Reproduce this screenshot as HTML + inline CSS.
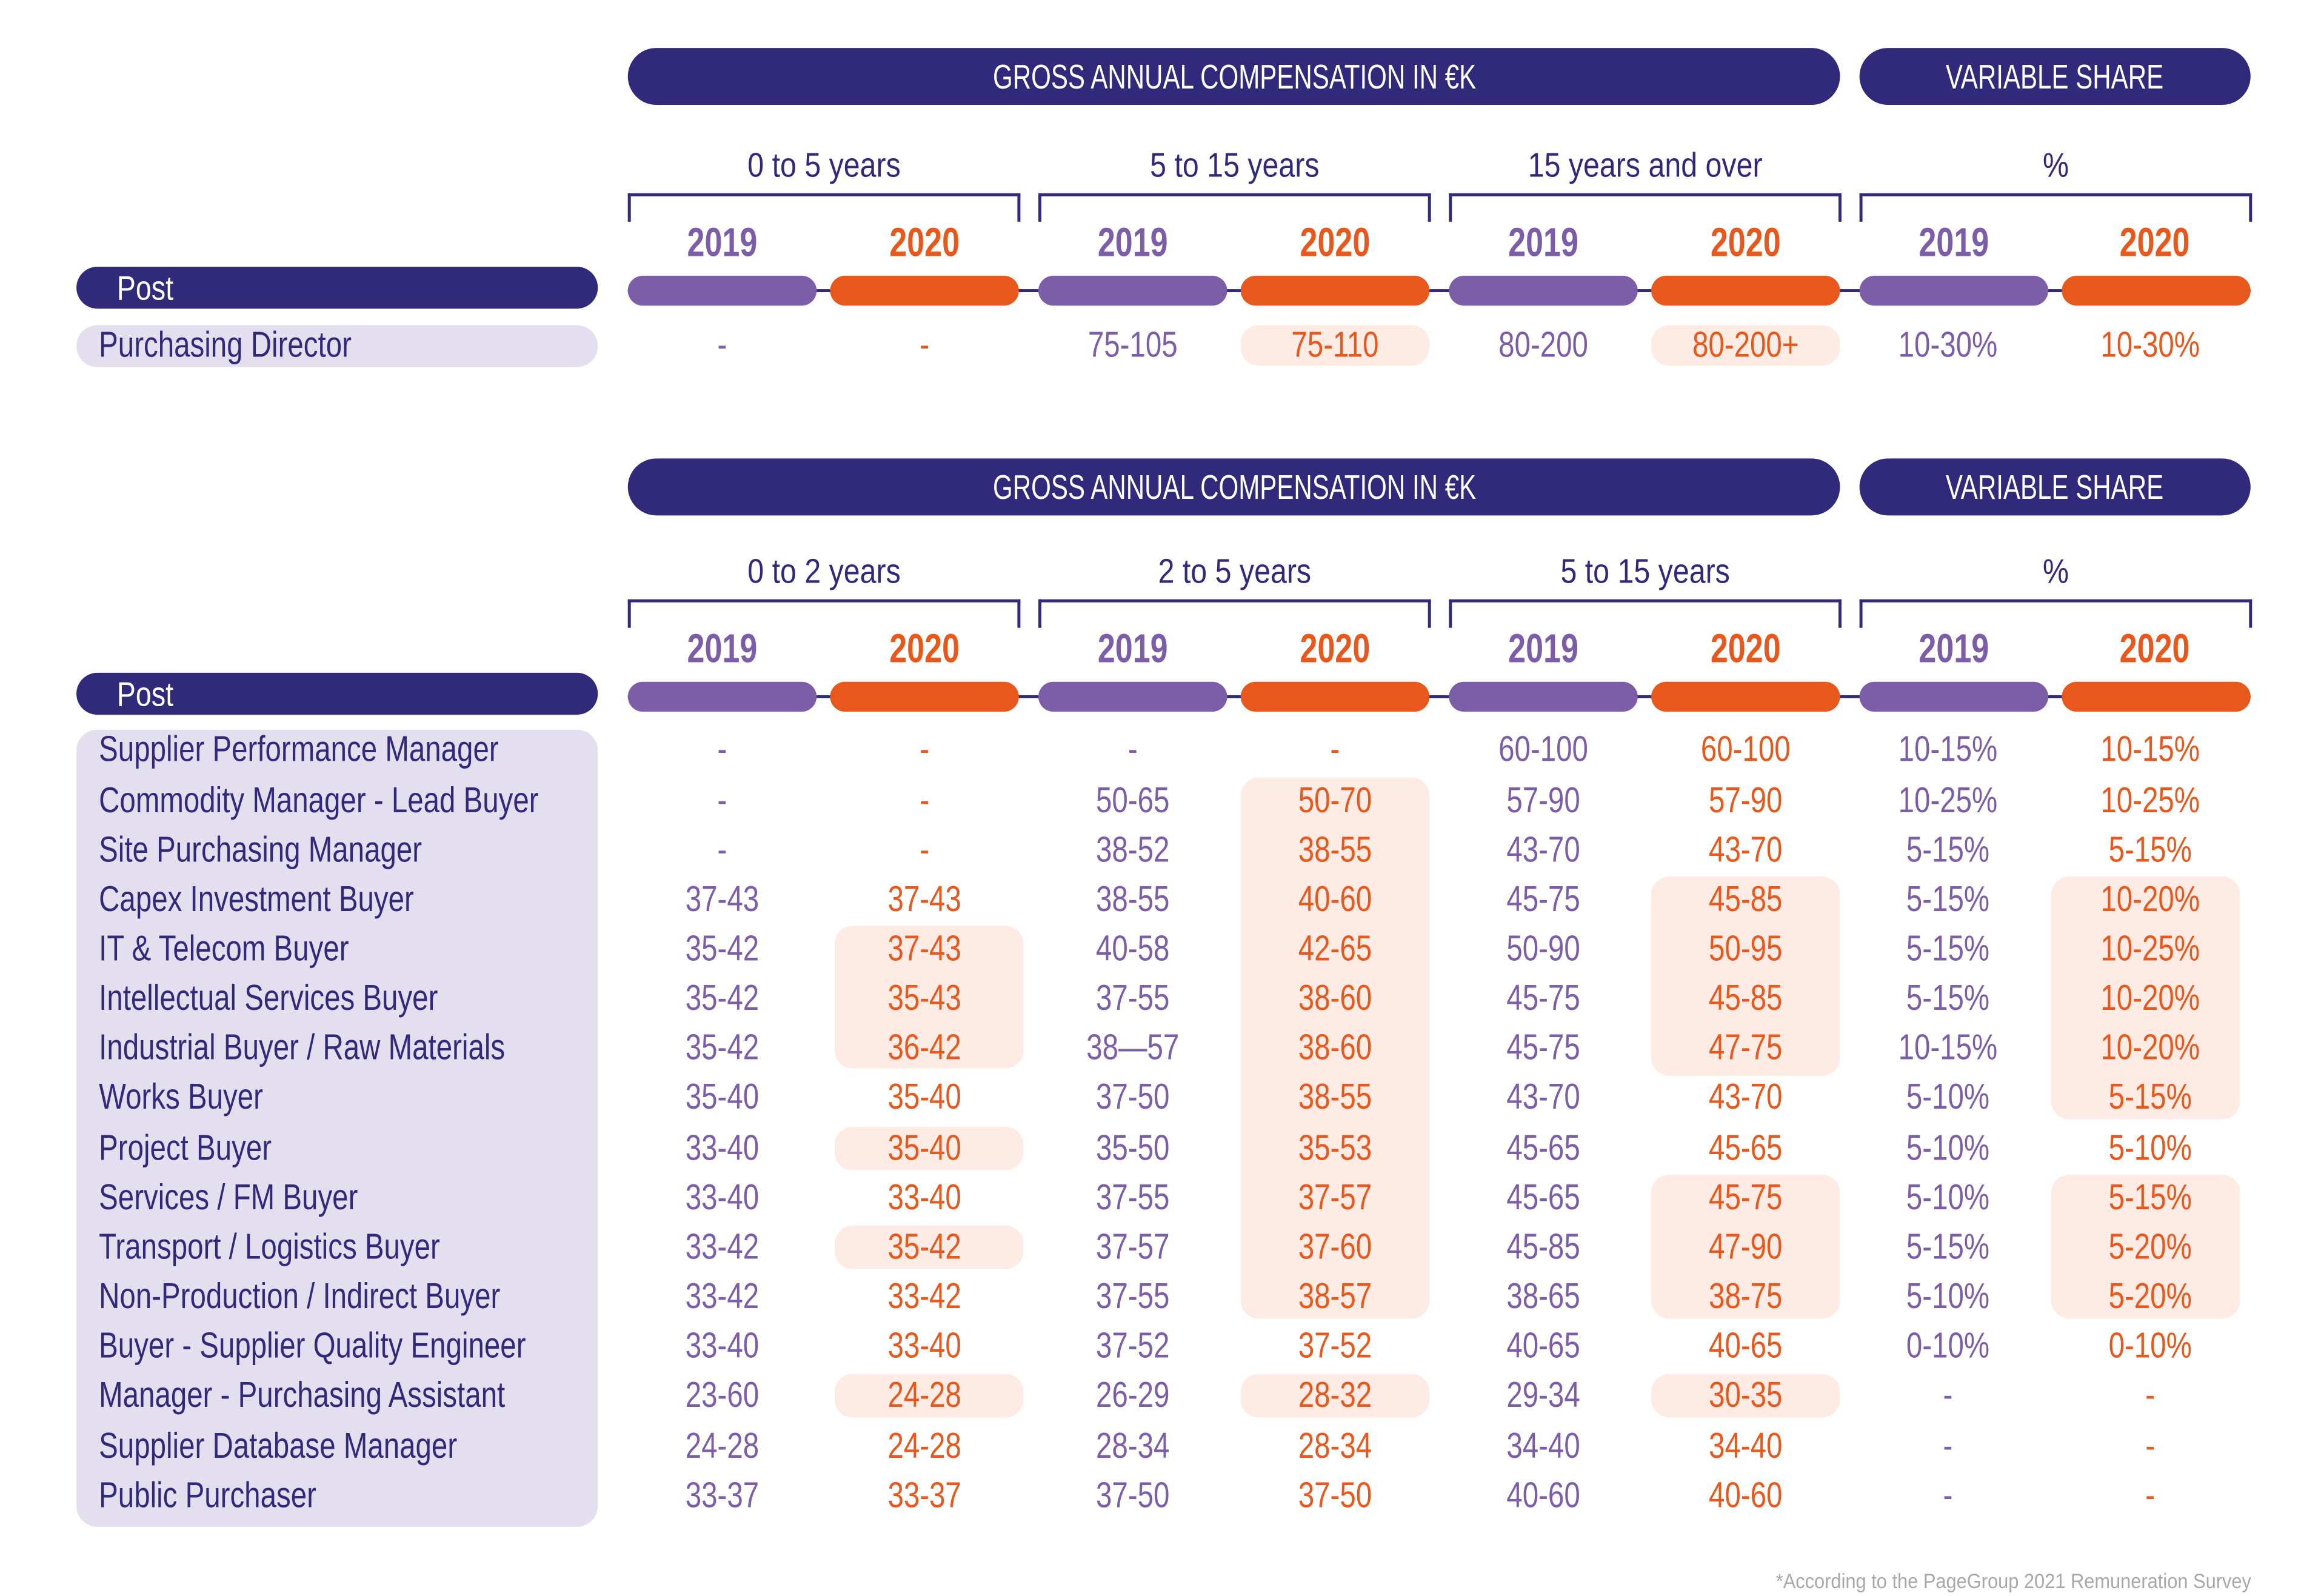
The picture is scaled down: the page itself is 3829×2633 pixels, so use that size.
<!DOCTYPE html>
<html><head><meta charset="utf-8"><style>
html,body{margin:0;padding:0;background:#fff;}
body{width:3829px;height:2621px;overflow:hidden;position:relative;}
#w{position:absolute;left:0;top:0;width:1549px;height:1060px;transform:scale(2.4719);transform-origin:0 0;font-family:"Liberation Sans Narrow","Liberation Sans",sans-serif;}
#w div{position:absolute;box-sizing:border-box;}
.pill{background:#312a7b;border-radius:19px;color:#fff;text-align:center;font-size:23px;line-height:38px;height:38px;}
.pill span{display:inline-block;transform:scaleX(0.74);white-space:nowrap;}
.grp{color:#312a7b;font-size:23px;text-align:center;width:262px;height:30px;line-height:30px;transform:scaleX(0.85);}
.br{border:2px solid #312a7b;border-bottom:none;height:19px;width:262px;}
.yr{font-size:27px;font-weight:bold;width:120px;text-align:center;height:30px;line-height:30px;transform:scaleX(0.78);}
.p{color:#7b5ea7}.o{color:#e8581c}
.post{background:#312a7b;border-radius:14px;color:#fff;font-size:23px;line-height:28px;height:28px;width:348px;left:51px;padding-left:27px;}
.post span{display:inline-block;transform:scaleX(0.82);transform-origin:0 50%;}
.cp{height:20px;width:126px;border-radius:10px;}
.bp{background:#7b5ea7}.bo{background:#e8581c}
.ln{height:2px;background:#312a7b;left:419px;width:1083px;}
.hl{background:#fdebe4;border-radius:12px;width:126px;}
.lab{left:66px;color:#312a7b;font-size:24px;height:30px;line-height:30px;white-space:nowrap;transform:scaleX(0.8);transform-origin:0 50%;}
.v{width:130px;text-align:center;font-size:24px;height:30px;line-height:30px;transform:scaleX(0.8);white-space:nowrap;}
</style></head><body><div id="w">

<!-- Table 1 -->
<div class="pill" style="left:419px;top:32px;width:809px;"><span>GROSS ANNUAL COMPENSATION IN €K</span></div>
<div class="pill" style="left:1241px;top:32px;width:261px;"><span>VARIABLE SHARE</span></div>
<div class="grp" style="left:419px;top:95px">0 to 5 years</div>
<div class="grp" style="left:693px;top:95px">5 to 15 years</div>
<div class="grp" style="left:967px;top:95px">15 years and over</div>
<div class="grp" style="left:1241px;top:95px">%</div>
<div class="br" style="left:419px;top:129px"></div><div class="br" style="left:693px;top:129px"></div><div class="br" style="left:967px;top:129px"></div><div class="br" style="left:1241px;top:129px"></div>
<div class="yr p" style="left:422px;top:147px">2019</div><div class="yr o" style="left:557px;top:147px">2020</div>
<div class="yr p" style="left:696px;top:147px">2019</div><div class="yr o" style="left:831px;top:147px">2020</div>
<div class="yr p" style="left:970px;top:147px">2019</div><div class="yr o" style="left:1105px;top:147px">2020</div>
<div class="yr p" style="left:1244px;top:147px">2019</div><div class="yr o" style="left:1378px;top:147px">2020</div>
<div class="post" style="top:178px"><span>Post</span></div>
<div class="ln" style="top:193px"></div>
<div class="cp bp" style="left:419px;top:184px"></div><div class="cp bo" style="left:554px;top:184px"></div>
<div class="cp bp" style="left:693px;top:184px"></div><div class="cp bo" style="left:828px;top:184px"></div>
<div class="cp bp" style="left:967px;top:184px"></div><div class="cp bo" style="left:1102px;top:184px"></div>
<div class="cp bp" style="left:1241px;top:184px"></div><div class="cp bo" style="left:1376px;top:184px"></div>
<div style="left:51px;top:217px;width:348px;height:28px;border-radius:14px;background:#e4dfee"></div>
<div class="hl" style="left:828px;top:217px;height:27px"></div>
<div class="hl" style="left:1102px;top:217px;height:27px"></div>
<div class="lab" style="top:216px">Purchasing Director</div>
<div class="v p" style="left:417px;top:216px">-</div><div class="v o" style="left:552px;top:216px">-</div>
<div class="v p" style="left:691px;top:216px">75-105</div><div class="v o" style="left:826px;top:216px">75-110</div>
<div class="v p" style="left:965px;top:216px">80-200</div><div class="v o" style="left:1100px;top:216px">80-200+</div>
<div class="v p" style="left:1235px;top:216px">10-30%</div><div class="v o" style="left:1370px;top:216px">10-30%</div>

<!-- Table 2 -->
<div class="pill" style="left:419px;top:306px;width:809px;"><span>GROSS ANNUAL COMPENSATION IN €K</span></div>
<div class="pill" style="left:1241px;top:306px;width:261px;"><span>VARIABLE SHARE</span></div>
<div class="grp" style="left:419px;top:366px">0 to 2 years</div>
<div class="grp" style="left:693px;top:366px">2 to 5 years</div>
<div class="grp" style="left:967px;top:366px">5 to 15 years</div>
<div class="grp" style="left:1241px;top:366px">%</div>
<div class="br" style="left:419px;top:400px"></div><div class="br" style="left:693px;top:400px"></div><div class="br" style="left:967px;top:400px"></div><div class="br" style="left:1241px;top:400px"></div>
<div class="yr p" style="left:422px;top:418px">2019</div><div class="yr o" style="left:557px;top:418px">2020</div>
<div class="yr p" style="left:696px;top:418px">2019</div><div class="yr o" style="left:831px;top:418px">2020</div>
<div class="yr p" style="left:970px;top:418px">2019</div><div class="yr o" style="left:1105px;top:418px">2020</div>
<div class="yr p" style="left:1244px;top:418px">2019</div><div class="yr o" style="left:1378px;top:418px">2020</div>
<div class="post" style="top:449px"><span>Post</span></div>
<div class="ln" style="top:464px"></div>
<div class="cp bp" style="left:419px;top:455px"></div><div class="cp bo" style="left:554px;top:455px"></div>
<div class="cp bp" style="left:693px;top:455px"></div><div class="cp bo" style="left:828px;top:455px"></div>
<div class="cp bp" style="left:967px;top:455px"></div><div class="cp bo" style="left:1102px;top:455px"></div>
<div class="cp bp" style="left:1241px;top:455px"></div><div class="cp bo" style="left:1376px;top:455px"></div>
<div style="left:51px;top:487px;width:348px;height:532px;border-radius:14px;background:#e4dfee"></div>

<!-- highlights -->
<div class="hl" style="left:557px;top:618px;height:95px"></div>
<div class="hl" style="left:557px;top:752px;height:29px"></div>
<div class="hl" style="left:557px;top:818px;height:29px"></div>
<div class="hl" style="left:557px;top:917px;height:29px"></div>
<div class="hl" style="left:828px;top:519px;height:361px"></div>
<div class="hl" style="left:828px;top:917px;height:29px"></div>
<div class="hl" style="left:1102px;top:585px;height:133px"></div>
<div class="hl" style="left:1102px;top:784px;height:96px"></div>
<div class="hl" style="left:1102px;top:917px;height:29px"></div>
<div class="hl" style="left:1369px;top:585px;height:162px"></div>
<div class="hl" style="left:1369px;top:784px;height:96px"></div>

<!-- rows -->
<div class="lab" style="top:486px">Supplier Performance Manager</div>
<div class="v p" style="left:417px;top:486px">-</div><div class="v o" style="left:552px;top:486px">-</div><div class="v p" style="left:691px;top:486px">-</div><div class="v o" style="left:826px;top:486px">-</div><div class="v p" style="left:965px;top:486px">60-100</div><div class="v o" style="left:1100px;top:486px">60-100</div><div class="v p" style="left:1235px;top:486px">10-15%</div><div class="v o" style="left:1370px;top:486px">10-15%</div>

<div class="lab" style="top:520px">Commodity Manager - Lead Buyer</div>
<div class="v p" style="left:417px;top:520px">-</div><div class="v o" style="left:552px;top:520px">-</div><div class="v p" style="left:691px;top:520px">50-65</div><div class="v o" style="left:826px;top:520px">50-70</div><div class="v p" style="left:965px;top:520px">57-90</div><div class="v o" style="left:1100px;top:520px">57-90</div><div class="v p" style="left:1235px;top:520px">10-25%</div><div class="v o" style="left:1370px;top:520px">10-25%</div>

<div class="lab" style="top:553px">Site Purchasing Manager</div>
<div class="v p" style="left:417px;top:553px">-</div><div class="v o" style="left:552px;top:553px">-</div><div class="v p" style="left:691px;top:553px">38-52</div><div class="v o" style="left:826px;top:553px">38-55</div><div class="v p" style="left:965px;top:553px">43-70</div><div class="v o" style="left:1100px;top:553px">43-70</div><div class="v p" style="left:1235px;top:553px">5-15%</div><div class="v o" style="left:1370px;top:553px">5-15%</div>

<div class="lab" style="top:586px">Capex Investment Buyer</div>
<div class="v p" style="left:417px;top:586px">37-43</div><div class="v o" style="left:552px;top:586px">37-43</div><div class="v p" style="left:691px;top:586px">38-55</div><div class="v o" style="left:826px;top:586px">40-60</div><div class="v p" style="left:965px;top:586px">45-75</div><div class="v o" style="left:1100px;top:586px">45-85</div><div class="v p" style="left:1235px;top:586px">5-15%</div><div class="v o" style="left:1370px;top:586px">10-20%</div>

<div class="lab" style="top:619px">IT &amp; Telecom Buyer</div>
<div class="v p" style="left:417px;top:619px">35-42</div><div class="v o" style="left:552px;top:619px">37-43</div><div class="v p" style="left:691px;top:619px">40-58</div><div class="v o" style="left:826px;top:619px">42-65</div><div class="v p" style="left:965px;top:619px">50-90</div><div class="v o" style="left:1100px;top:619px">50-95</div><div class="v p" style="left:1235px;top:619px">5-15%</div><div class="v o" style="left:1370px;top:619px">10-25%</div>

<div class="lab" style="top:652px">Intellectual Services Buyer</div>
<div class="v p" style="left:417px;top:652px">35-42</div><div class="v o" style="left:552px;top:652px">35-43</div><div class="v p" style="left:691px;top:652px">37-55</div><div class="v o" style="left:826px;top:652px">38-60</div><div class="v p" style="left:965px;top:652px">45-75</div><div class="v o" style="left:1100px;top:652px">45-85</div><div class="v p" style="left:1235px;top:652px">5-15%</div><div class="v o" style="left:1370px;top:652px">10-20%</div>

<div class="lab" style="top:685px">Industrial Buyer / Raw Materials</div>
<div class="v p" style="left:417px;top:685px">35-42</div><div class="v o" style="left:552px;top:685px">36-42</div><div class="v p" style="left:691px;top:685px">38—57</div><div class="v o" style="left:826px;top:685px">38-60</div><div class="v p" style="left:965px;top:685px">45-75</div><div class="v o" style="left:1100px;top:685px">47-75</div><div class="v p" style="left:1235px;top:685px">10-15%</div><div class="v o" style="left:1370px;top:685px">10-20%</div>

<div class="lab" style="top:718px">Works Buyer</div>
<div class="v p" style="left:417px;top:718px">35-40</div><div class="v o" style="left:552px;top:718px">35-40</div><div class="v p" style="left:691px;top:718px">37-50</div><div class="v o" style="left:826px;top:718px">38-55</div><div class="v p" style="left:965px;top:718px">43-70</div><div class="v o" style="left:1100px;top:718px">43-70</div><div class="v p" style="left:1235px;top:718px">5-10%</div><div class="v o" style="left:1370px;top:718px">5-15%</div>

<div class="lab" style="top:752px">Project Buyer</div>
<div class="v p" style="left:417px;top:752px">33-40</div><div class="v o" style="left:552px;top:752px">35-40</div><div class="v p" style="left:691px;top:752px">35-50</div><div class="v o" style="left:826px;top:752px">35-53</div><div class="v p" style="left:965px;top:752px">45-65</div><div class="v o" style="left:1100px;top:752px">45-65</div><div class="v p" style="left:1235px;top:752px">5-10%</div><div class="v o" style="left:1370px;top:752px">5-10%</div>

<div class="lab" style="top:785px">Services / FM Buyer</div>
<div class="v p" style="left:417px;top:785px">33-40</div><div class="v o" style="left:552px;top:785px">33-40</div><div class="v p" style="left:691px;top:785px">37-55</div><div class="v o" style="left:826px;top:785px">37-57</div><div class="v p" style="left:965px;top:785px">45-65</div><div class="v o" style="left:1100px;top:785px">45-75</div><div class="v p" style="left:1235px;top:785px">5-10%</div><div class="v o" style="left:1370px;top:785px">5-15%</div>

<div class="lab" style="top:818px">Transport / Logistics Buyer</div>
<div class="v p" style="left:417px;top:818px">33-42</div><div class="v o" style="left:552px;top:818px">35-42</div><div class="v p" style="left:691px;top:818px">37-57</div><div class="v o" style="left:826px;top:818px">37-60</div><div class="v p" style="left:965px;top:818px">45-85</div><div class="v o" style="left:1100px;top:818px">47-90</div><div class="v p" style="left:1235px;top:818px">5-15%</div><div class="v o" style="left:1370px;top:818px">5-20%</div>

<div class="lab" style="top:851px">Non-Production / Indirect Buyer</div>
<div class="v p" style="left:417px;top:851px">33-42</div><div class="v o" style="left:552px;top:851px">33-42</div><div class="v p" style="left:691px;top:851px">37-55</div><div class="v o" style="left:826px;top:851px">38-57</div><div class="v p" style="left:965px;top:851px">38-65</div><div class="v o" style="left:1100px;top:851px">38-75</div><div class="v p" style="left:1235px;top:851px">5-10%</div><div class="v o" style="left:1370px;top:851px">5-20%</div>

<div class="lab" style="top:884px">Buyer - Supplier Quality Engineer</div>
<div class="v p" style="left:417px;top:884px">33-40</div><div class="v o" style="left:552px;top:884px">33-40</div><div class="v p" style="left:691px;top:884px">37-52</div><div class="v o" style="left:826px;top:884px">37-52</div><div class="v p" style="left:965px;top:884px">40-65</div><div class="v o" style="left:1100px;top:884px">40-65</div><div class="v p" style="left:1235px;top:884px">0-10%</div><div class="v o" style="left:1370px;top:884px">0-10%</div>

<div class="lab" style="top:917px">Manager - Purchasing Assistant</div>
<div class="v p" style="left:417px;top:917px">23-60</div><div class="v o" style="left:552px;top:917px">24-28</div><div class="v p" style="left:691px;top:917px">26-29</div><div class="v o" style="left:826px;top:917px">28-32</div><div class="v p" style="left:965px;top:917px">29-34</div><div class="v o" style="left:1100px;top:917px">30-35</div><div class="v p" style="left:1235px;top:917px">-</div><div class="v o" style="left:1370px;top:917px">-</div>

<div class="lab" style="top:951px">Supplier Database Manager</div>
<div class="v p" style="left:417px;top:951px">24-28</div><div class="v o" style="left:552px;top:951px">24-28</div><div class="v p" style="left:691px;top:951px">28-34</div><div class="v o" style="left:826px;top:951px">28-34</div><div class="v p" style="left:965px;top:951px">34-40</div><div class="v o" style="left:1100px;top:951px">34-40</div><div class="v p" style="left:1235px;top:951px">-</div><div class="v o" style="left:1370px;top:951px">-</div>

<div class="lab" style="top:984px">Public Purchaser</div>
<div class="v p" style="left:417px;top:984px">33-37</div><div class="v o" style="left:552px;top:984px">33-37</div><div class="v p" style="left:691px;top:984px">37-50</div><div class="v o" style="left:826px;top:984px">37-50</div><div class="v p" style="left:965px;top:984px">40-60</div><div class="v o" style="left:1100px;top:984px">40-60</div><div class="v p" style="left:1235px;top:984px">-</div><div class="v o" style="left:1370px;top:984px">-</div>

<div style="right:47px;top:1045px;color:#a8a8a8;font-size:14px;line-height:20px;white-space:nowrap;transform:scaleX(0.89);transform-origin:100% 50%;">*According to the PageGroup 2021 Remuneration Survey</div>
</div></body></html>
